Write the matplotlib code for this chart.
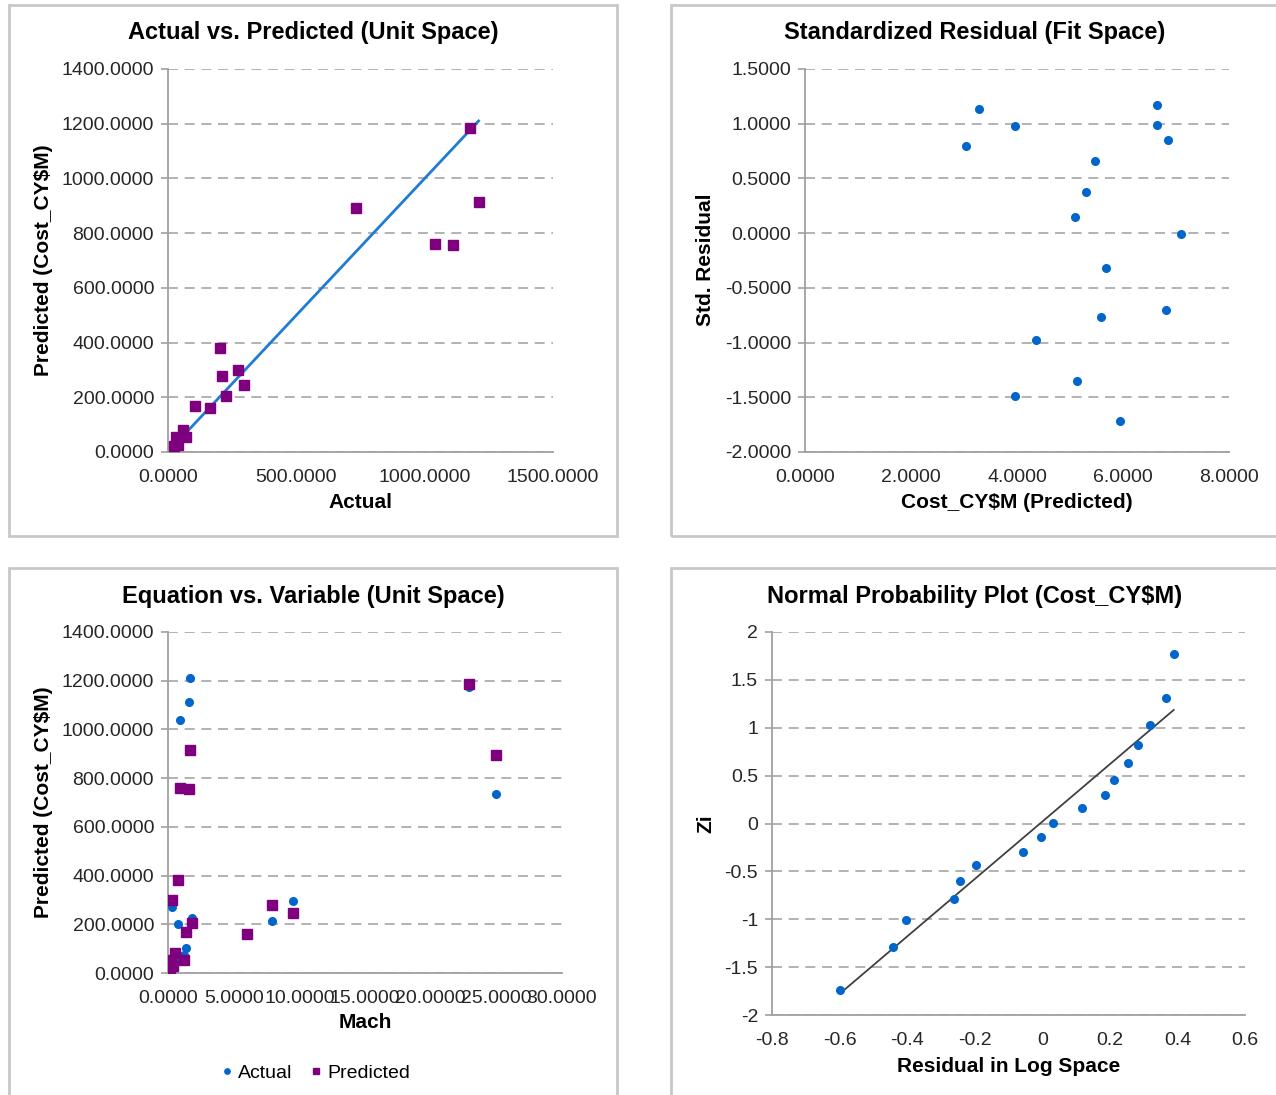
import matplotlib
matplotlib.use("Agg")
import matplotlib.pyplot as plt
import numpy as np
from matplotlib.patches import Rectangle
from matplotlib.ticker import FuncFormatter, MultipleLocator

plt.rcParams["font.family"] = ["Liberation Sans", "DejaVu Sans"]

W, H = 1276, 1095

# --- data ---
actual = [1176, 1210, 733, 1040, 1111, 203, 212, 273, 297, 227, 104, 163, 57, 72, 31, 25, 40]
predicted = [1185, 914, 893, 761, 755, 381, 278, 299, 245, 206, 168, 162, 82, 54, 54, 21, 27]
mach = [22.9, 1.70, 24.96, 0.89, 1.58, 0.76, 7.92, 0.33, 9.52, 1.80, 1.34, 6.0,
        0.53, 1.22, 0.25, 0.15, 0.35]

fit_pred = [3.29, 6.64, 3.96, 6.64, 3.03, 6.84, 5.48, 5.31, 5.09, 7.09, 5.67, 6.81,
            5.59, 4.36, 5.13, 3.96, 5.94]
std_resid = [1.137, 1.167, 0.975, 0.991, 0.795, 0.854, 0.662, 0.375, 0.146, -0.006,
             -0.32, -0.70, -0.768, -0.972, -1.353, -1.49, -1.72]

log_resid = [-0.598, -0.443, -0.404, -0.261, -0.243, -0.195, -0.058, -0.005, 0.031,
             0.118, 0.185, 0.213, 0.255, 0.282, 0.318, 0.366, 0.389]
zi = [-1.742, -1.289, -1.006, -0.787, -0.603, -0.432, -0.293, -0.136, 0.003,
      0.160, 0.300, 0.457, 0.627, 0.815, 1.031, 1.313, 1.766]

BLUE = "#0066CC"
PURPLE = "#7F007F"
GRID = "#A6A6A6"
AXIS = "#A0A0A0"
TXT = "#262626"

TITLE_FS = 17
LABEL_FS = 15
TICK_FS = 14

fig = plt.figure(figsize=(W / 100, H / 100), dpi=100)


def add_ax(l, t, r, b):
    return fig.add_axes([l / W, 1 - b / H, (r - l) / W, (b - t) / H])


def ftext(x, y, s, **kw):
    fig.text(x / W, 1 - y / H, s, ha="center", va="center", color="black", **kw)


def style(ax, fmt):
    for side in ("top", "right"):
        ax.spines[side].set_visible(False)
    for side in ("left", "bottom"):
        ax.spines[side].set_color(AXIS)
        ax.spines[side].set_linewidth(1.3)
    ax.grid(axis="y", color=GRID, linestyle=(0, (6, 4)), linewidth=1.2)
    ax.set_axisbelow(True)
    ax.tick_params(axis="y", length=5, color=AXIS, width=1.2, labelsize=TICK_FS,
                   labelcolor=TXT, pad=5)
    ax.tick_params(axis="x", length=0, labelsize=TICK_FS, labelcolor=TXT, pad=12)
    ax.xaxis.set_major_formatter(FuncFormatter(fmt))
    ax.yaxis.set_major_formatter(FuncFormatter(fmt))


f4 = lambda v, p: f"{v:.4f}"
fg = lambda v, p: f"{round(v, 2):g}"

# panel frames
for (l, t, r, b) in [(9, 5, 617, 536), (671, 5, 1290, 536),
                     (9, 568, 617, 1110), (671, 568, 1290, 1110)]:
    fig.patches.append(Rectangle((l / W, 1 - b / H), (r - l) / W, (b - t) / H,
                                 transform=fig.transFigure, fill=False,
                                 edgecolor="#C8C8C8", linewidth=2))

# --- Actual vs Predicted ---
ax1 = add_ax(168, 69, 553, 452)
ax1.set_xlim(0, 1500)
ax1.set_ylim(0, 1400)
ax1.xaxis.set_major_locator(MultipleLocator(500))
ax1.yaxis.set_major_locator(MultipleLocator(200))
style(ax1, f4)
lo, hi = min(actual), max(actual)
ax1.plot([lo, hi], [lo, hi], color="#1F7BD6", linewidth=2, zorder=2)
ax1.plot(actual, predicted, linestyle="none", marker="s", markersize=6.5,
         color=PURPLE, zorder=3)
ftext(313, 33, "Actual vs. Predicted (Unit Space)", fontsize=TITLE_FS, fontweight="bold")
ftext(360, 502, "Actual", fontsize=LABEL_FS, fontweight="bold")
ftext(44, 260, "Predicted (Cost_CY$M)", fontsize=LABEL_FS, fontweight="bold", rotation=90)

# --- Standardized residual ---
ax2 = add_ax(805, 69, 1229, 452)
ax2.set_xlim(0, 8)
ax2.set_ylim(-2, 1.5)
ax2.xaxis.set_major_locator(MultipleLocator(2))
ax2.yaxis.set_major_locator(MultipleLocator(0.5))
style(ax2, f4)
ax2.plot(fit_pred, std_resid, linestyle="none", marker="o", markersize=5.5,
         color=BLUE, zorder=3)
ftext(975, 33, "Standardized Residual (Fit Space)", fontsize=TITLE_FS, fontweight="bold")
ftext(1017, 502, "Cost_CY$M (Predicted)", fontsize=LABEL_FS, fontweight="bold")
ftext(706, 260, "Std. Residual", fontsize=LABEL_FS, fontweight="bold", rotation=90)

# --- Equation vs Variable ---
ax3 = add_ax(168, 632, 562, 973)
ax3.set_xlim(0, 30)
ax3.set_ylim(0, 1400)
ax3.xaxis.set_major_locator(MultipleLocator(5))
ax3.yaxis.set_major_locator(MultipleLocator(200))
style(ax3, f4)
ax3.plot(mach, actual, linestyle="none", marker="o", markersize=5.5,
         color=BLUE, zorder=3, label="Actual")
ax3.plot(mach, predicted, linestyle="none", marker="s", markersize=6.5,
         color=PURPLE, zorder=3, label="Predicted")
ftext(313, 597, "Equation vs. Variable (Unit Space)", fontsize=TITLE_FS, fontweight="bold")
ftext(365, 1023, "Mach", fontsize=LABEL_FS, fontweight="bold")
ftext(44, 802, "Predicted (Cost_CY$M)", fontsize=LABEL_FS, fontweight="bold", rotation=90)
fig.legend(*ax3.get_legend_handles_labels(), loc="center",
           bbox_to_anchor=(316 / W, 1 - 1073 / H), ncol=2, frameon=False,
           fontsize=TICK_FS, markerscale=0.7, handlelength=0.5, handletextpad=0.3,
           columnspacing=1.0)

# --- Normal probability plot ---
ax4 = add_ax(772, 632, 1245, 1015)
ax4.set_xlim(-0.8, 0.6)
ax4.set_ylim(-2, 2)
ax4.xaxis.set_major_locator(MultipleLocator(0.2))
ax4.yaxis.set_major_locator(MultipleLocator(0.5))
style(ax4, fg)
slope, icpt = np.polyfit(log_resid, zi, 1)
xs = np.array([min(log_resid), max(log_resid)])
ax4.plot(xs, slope * xs + icpt, color="#404040", linewidth=1.3, zorder=2)
ax4.plot(log_resid, zi, linestyle="none", marker="o", markersize=5.5,
         color=BLUE, zorder=3)
ftext(975, 597, "Normal Probability Plot (Cost_CY$M)", fontsize=TITLE_FS, fontweight="bold")
ftext(1009, 1066, "Residual in Log Space", fontsize=LABEL_FS, fontweight="bold")
ftext(706, 824, "Zi", fontsize=LABEL_FS, fontweight="bold", rotation=90)

fig.savefig("out.png", dpi=100, facecolor="white")
